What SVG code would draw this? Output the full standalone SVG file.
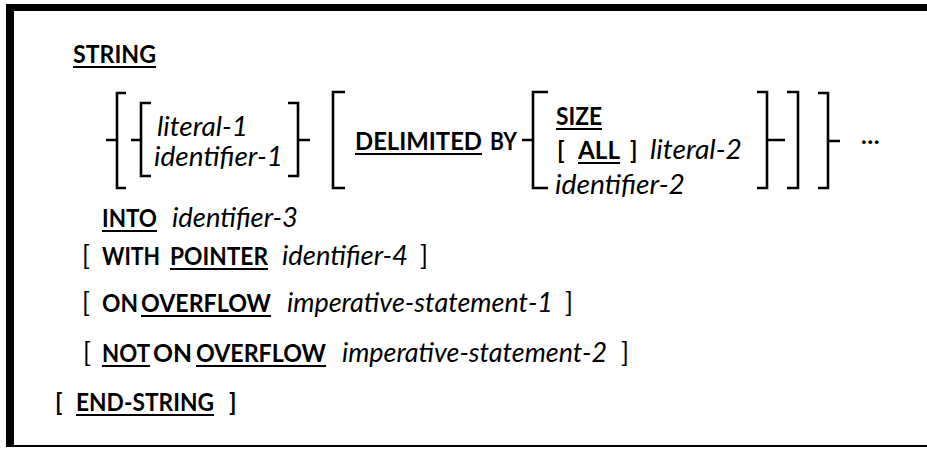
<svg xmlns="http://www.w3.org/2000/svg" width="927" height="449" viewBox="0 0 927 449">
<style>
text{font-family:Lato,"Liberation Sans",sans-serif;fill:#000}
.b{font-weight:bold;font-size:24px}
.i{font-style:italic;font-size:27px}
.r{font-size:26px}
.ul{stroke:#000;stroke-width:2;fill:none}
.br{stroke:#000;stroke-width:2.6;fill:none;stroke-linecap:butt;stroke-linejoin:miter}
</style>
<rect width="927" height="449" fill="#fff"/>
<g id="frame">
<rect x="6" y="4" width="921" height="7" fill="#000"/>
<rect x="6" y="4" width="8" height="443" rx="2" fill="#000"/>
<rect x="6" y="445" width="921" height="2" fill="#000"/>
</g>
<g id="string">
<text class="b" x="73" y="63" textLength="83" lengthAdjust="spacingAndGlyphs">STRING</text>
<line class="ul" x1="73" y1="67" x2="156" y2="67"/>
</g>
<g id="brackets">
<path class="br" d="M126,93 H117 V188 H126 M106,140 H117"/>
<path class="br" d="M151,103 H141 V176 H151 M131,140 H141"/>
<path class="br" d="M288,103 H298 V176 H288 M298,140 H310"/>
<path class="br" d="M345,92 H333 V188 H345"/>
<path class="br" d="M548,92 H533 V188 H548 M522,140 H533"/>
<path class="br" d="M757,92 H767 V188 H757 M767,140 H785"/>
<path class="br" d="M787,92 H798 V188 H787"/>
<path class="br" d="M818,93 H828 V188 H818 M828,141 H840"/>
</g>
<g id="operands-1">
<text class="i" x="157" y="136" textLength="91" lengthAdjust="spacingAndGlyphs">literal-1</text>
<text class="i" x="154" y="166" textLength="129" lengthAdjust="spacingAndGlyphs">identifier-1</text>
</g>
<g id="delimited">
<text class="b" x="355" y="150" textLength="127" lengthAdjust="spacingAndGlyphs">DELIMITED</text>
<line class="ul" x1="355" y1="154" x2="482" y2="154"/>
<text class="b" x="490" y="150" textLength="27" lengthAdjust="spacingAndGlyphs">BY</text>
</g>
<g id="operands-2">
<text class="b" x="556" y="125" textLength="46" lengthAdjust="spacingAndGlyphs">SIZE</text>
<line class="ul" x1="556" y1="129" x2="602" y2="129"/>
<text class="b" x="557" y="159">[</text>
<text class="b" x="578" y="159" textLength="42" lengthAdjust="spacingAndGlyphs">ALL</text>
<line class="ul" x1="578" y1="163" x2="620" y2="163"/>
<text class="b" x="630" y="159">]</text>
<text class="i" x="650" y="159" textLength="92" lengthAdjust="spacingAndGlyphs">literal-2</text>
<text class="i" x="555" y="194" textLength="130" lengthAdjust="spacingAndGlyphs">identifier-2</text>
</g>
<g id="repeat">
<text class="b" x="861" y="144" font-size="24">…</text>
</g>
<g id="into">
<text class="b" x="102" y="227" textLength="55" lengthAdjust="spacingAndGlyphs">INTO</text>
<line class="ul" x1="102" y1="231" x2="157" y2="231"/>
<text class="i" x="172" y="227" textLength="126" lengthAdjust="spacingAndGlyphs">identifier-3</text>
</g>
<g id="pointer">
<text class="r" x="82" y="265">[</text>
<text class="b" x="102" y="265" textLength="58" lengthAdjust="spacingAndGlyphs">WITH</text>
<text class="b" x="170" y="265" textLength="98" lengthAdjust="spacingAndGlyphs">POINTER</text>
<line class="ul" x1="170" y1="269" x2="268" y2="269"/>
<text class="i" x="282" y="265" textLength="126" lengthAdjust="spacingAndGlyphs">identifier-4</text>
<text class="r" x="420" y="265">]</text>
</g>
<g id="overflow">
<text class="r" x="82" y="312">[</text>
<text class="b" x="102" y="312" textLength="36" lengthAdjust="spacingAndGlyphs">ON</text>
<text class="b" x="141" y="312" textLength="130" lengthAdjust="spacingAndGlyphs">OVERFLOW</text>
<line class="ul" x1="141" y1="316" x2="271" y2="316"/>
<text class="i" x="287" y="312" textLength="266" lengthAdjust="spacingAndGlyphs">imperative-statement-1</text>
<text class="r" x="565" y="312">]</text>
</g>
<g id="not-overflow">
<text class="r" x="83" y="362">[</text>
<text class="b" x="102" y="362" textLength="48" lengthAdjust="spacingAndGlyphs">NOT</text>
<line class="ul" x1="102" y1="366" x2="150" y2="366"/>
<text class="b" x="153" y="362" textLength="39" lengthAdjust="spacingAndGlyphs">ON</text>
<text class="b" x="196" y="362" textLength="130" lengthAdjust="spacingAndGlyphs">OVERFLOW</text>
<line class="ul" x1="196" y1="366" x2="326" y2="366"/>
<text class="i" x="342" y="362" textLength="265" lengthAdjust="spacingAndGlyphs">imperative-statement-2</text>
<text class="r" x="621" y="362">]</text>
</g>
<g id="end-string">
<text class="b" x="55" y="411">[</text>
<text class="b" x="76" y="411" textLength="138" lengthAdjust="spacingAndGlyphs">END-STRING</text>
<line class="ul" x1="76" y1="415" x2="214" y2="415"/>
<text class="b" x="229" y="411">]</text>
</g>
</svg>
